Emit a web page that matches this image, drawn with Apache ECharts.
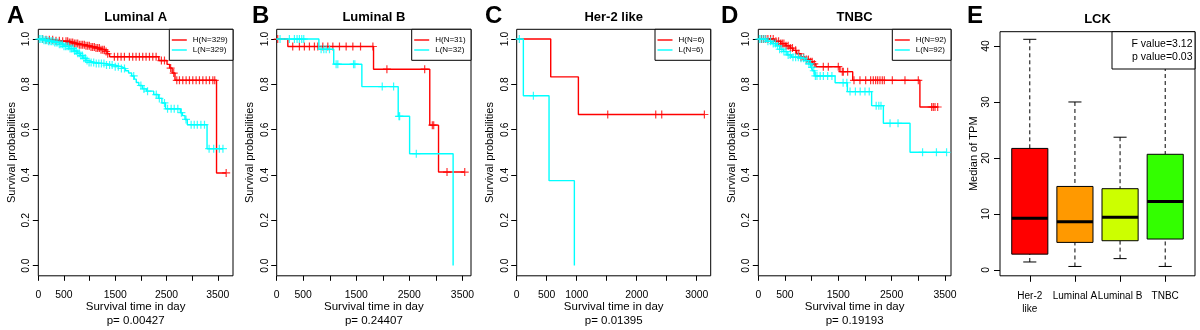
<!DOCTYPE html>
<html><head><meta charset="utf-8">
<script src="https://cdn.jsdelivr.net/npm/echarts@6/dist/echarts.min.js"></script>
<style>html,body{margin:0;padding:0;background:#fff}#c{width:1200px;height:330px}</style>
</head><body><div id="c"></div>
<script>
// ---------------- DATA ----------------
const kmTitles = ['Luminal A', 'Luminal B', 'Her-2 like', 'TNBC'];
const kmLetters = ['A', 'B', 'C', 'D'];
const kmPValues = ['0.00427', '0.24407', '0.01395', '0.19193'];
const kmHighN = [329, 31, 6, 92];
const kmLowN = [329, 32, 6, 92];
const kmXTickValues = [
  [0, 500, 1000, 1500, 2000, 2500, 3000, 3500],
  [0, 500, 1000, 1500, 2000, 2500, 3000, 3500],
  [0, 500, 1000, 1500, 2000, 2500, 3000],
  [0, 500, 1000, 1500, 2000, 2500, 3000, 3500]
];
const kmXTickLabels = [
  [0, 500, 1500, 2500, 3500],
  [0, 500, 1500, 2500, 3500],
  [0, 500, 1000, 2000, 3000],
  [0, 500, 1500, 2500, 3500]
];
const kmYTicks = [0, 0.2, 0.4, 0.6, 0.8, 1];

// Luminal A
const lumA_H_steps = [[0,1],[150,0.997],[300,0.993],[450,0.99],[600,0.985],[700,0.98],[800,0.975],[900,0.97],[1000,0.965],[1100,0.96],[1200,0.953],[1290,0.945],[1340,0.935],[1390,0.922],[2350,0.905],[2510,0.888],[2560,0.872],[2610,0.85],[2665,0.818],[3475,0.409]];
const lumA_H_censor = [85,150,215,280,345,410,475,540,572,605,637,670,703,735,768,800,833,865,898,930,963,995,1028,1060,1093,1125,1158,1191,1223,1256,1288,1321,1353,1483,1548,1614,1679,1776,1841,1906,1971,2036,2101,2167,2232,2297,2400,2460,2580,2640,2700,2752,2817,2882,2947,3012,3077,3142,3208,3273,3338,3403,3440,3663];
const lumA_L_steps = [[0,1],[100,0.995],[200,0.99],[300,0.985],[400,0.977],[500,0.968],[600,0.958],[700,0.947],[760,0.937],[820,0.927],[870,0.915],[930,0.905],[980,0.897],[1100,0.892],[1300,0.885],[1500,0.878],[1620,0.87],[1700,0.86],[1760,0.85],[1820,0.837],[1870,0.823],[1910,0.808],[1960,0.795],[2030,0.78],[2110,0.77],[2250,0.755],[2340,0.738],[2410,0.718],[2480,0.692],[2770,0.675],[2810,0.662],[2860,0.645],[2905,0.622],[3290,0.516]];
const lumA_L_censor = [20,50,80,110,140,170,200,230,260,290,320,350,380,410,440,470,500,530,560,590,620,650,680,710,740,770,800,830,860,890,920,950,990,1030,1080,1130,1180,1230,1280,1330,1390,1440,1500,1560,1620,1680,1860,2000,2060,2130,2300,2360,2460,2520,2590,2650,2720,2790,2880,2980,3040,3100,3170,3240,3330,3420,3530,3600];

// Luminal B
const lumB_H_steps = [[0,1],[210,0.967],[1825,0.867],[2885,0.62],[3050,0.413]];
const lumB_H_censor = [19,302,428,522,617,711,774,869,963,1058,1183,1309,1435,1580,1813,2077,2789,2933,2959,3210,3544];
const lumB_L_steps = [[0,1],[795,0.955],[1075,0.889],[1605,0.79],[2290,0.659],[2505,0.494],[3325,0]];
const lumB_L_censor = [63,239,334,384,428,472,510,837,888,932,995,1120,1152,1448,1473,1989,2203,2304,2317,2631];

// Her-2 like
const her2_H_steps = [[0,1],[567,0.833],[1028,0.667]];
const her2_H_censor = [1517,2317,2417,3128];
const her2_L_steps = [[0,1],[111,0.75],[539,0.375],[961,0]];
const her2_L_censor = [44,278];

// TNBC
const tnbc_H_steps = [[0,1],[300,0.99],[420,0.98],[520,0.97],[600,0.96],[650,0.95],[720,0.935],[800,0.92],[870,0.91],[950,0.9],[1020,0.89],[1080,0.878],[1530,0.856],[1770,0.818],[3030,0.7]];
const tnbc_H_censor = [60,100,140,180,230,280,330,380,420,450,480,520,560,600,640,700,760,800,850,900,940,980,1010,1050,1219,1313,1500,1575,1594,1675,1794,1906,2013,2106,2156,2200,2238,2281,2325,2363,2513,2750,3000,3250,3281,3313,3363];
const tnbc_L_steps = [[0,1],[150,0.99],[250,0.98],[330,0.97],[400,0.955],[470,0.945],[540,0.93],[620,0.92],[760,0.915],[870,0.905],[940,0.89],[990,0.875],[1020,0.86],[1060,0.837],[1440,0.807],[1670,0.768],[2125,0.706],[2345,0.628],[2845,0.5]];
const tnbc_L_censor = [20,50,90,130,180,230,280,320,360,400,440,480,520,560,600,650,700,750,800,850,900,950,980,1010,1040,1070,1100,1160,1220,1300,1380,1590,1660,1720,1820,1910,2000,2080,2210,2260,2300,2470,2620,3080,3340,3530];

// Box plot (panel E)
const boxTitle = 'LCK';
const boxCategories = ['Her-2\nlike', 'Luminal A', 'Luminal B', 'TNBC'];
const boxMin = [1.4, 0.6, 2.0, 0.6];
const boxQ1 = [2.8, 4.9, 5.2, 5.5];
const boxMedian = [9.2, 8.6, 9.4, 12.2];
const boxQ3 = [21.7, 14.9, 14.5, 20.65];
const boxMax = [41.2, 30.0, 23.7, 40.0];
const boxYTicks = [0, 10, 20, 30, 40];
const boxStatLines = ['F value=3.12', 'p value=0.03'];

// ---------------- STYLE / LAYOUT ----------------
const FONT = '"Liberation Sans", Arial, Helvetica, sans-serif';
const RED = '#FF0000', CYAN = '#00FFFF';
const boxColors = ['#FF0000', '#FF9900', '#CCFF00', '#33FF00'];
const kmGridLeft = [38.3, 276.7, 516.7, 758.3];
const kmGridRight = [233, 471, 710.7, 951];
const kmXMax = [3796, 3662, 3233, 3613];
const kmLegendWidth = [63.7, 59.3, 55.7, 58.7];
const kmTop = 29.3, kmBottom = 275.8;
const eLeft = 1000, eRight = 1195, eTop = 31.7, eBottom = 275.8;

const kmSteps = [[lumA_H_steps, lumA_L_steps],[lumB_H_steps, lumB_L_steps],[her2_H_steps, her2_L_steps],[tnbc_H_steps, tnbc_L_steps]];
const kmCensor = [[lumA_H_censor, lumA_L_censor],[lumB_H_censor, lumB_L_censor],[her2_H_censor, her2_L_censor],[tnbc_H_censor, tnbc_L_censor]];

function survAt(steps, t) {
  let v = steps[0][1];
  for (const s of steps) { if (s[0] <= t) v = s[1]; else break; }
  return v;
}
function stepLine(steps, censor) {
  const last = steps[steps.length - 1];
  const end = Math.max(last[0], censor.length ? Math.max(...censor) : 0);
  const d = steps.map(s => [s[0], s[1]]);
  if (end > last[0]) d.push([end, last[1]]);
  return d;
}
const PLUS = 'path://M3.4,0H4.6V3.4H8V4.6H4.6V8H3.4V4.6H0V3.4H3.4Z';

const grids = [], xAxes = [], yAxes = [], series = [], graphics = [];
const txt = (fs, extra) => Object.assign({fontSize: fs, color: '#000', fontFamily: FONT}, extra || {});

for (let i = 0; i < 4; i++) {
  grids.push({left: kmGridLeft[i], top: kmTop, width: kmGridRight[i] - kmGridLeft[i], height: kmBottom - kmTop,
    show: true, borderColor: '#000', borderWidth: 1, backgroundColor: 'transparent', containLabel: false, outerBoundsMode: 'none'});
  xAxes.push({gridIndex: i, type: 'value', min: 0, max: kmXMax[i], position: 'bottom',
    axisLine: {show: false, onZero: false}, splitLine: {show: false},
    axisTick: {show: true, length: 5, lineStyle: {color: '#000'}, customValues: kmXTickValues[i]},
    axisLabel: txt(10.4, {customValues: kmXTickLabels[i], margin: 14, formatter: v => String(v)}),
    name: 'Survival time in day', nameLocation: 'middle', nameGap: 25, nameMoveOverlap: false, nameTextStyle: txt(11.5)});
  yAxes.push({gridIndex: i, type: 'value', min: -0.045, max: 1.043, position: 'left',
    axisLine: {show: false, onZero: false}, splitLine: {show: false},
    axisTick: {show: true, length: 5.5, lineStyle: {color: '#000'}, customValues: kmYTicks},
    axisLabel: txt(10.4, {customValues: kmYTicks, rotate: 90, margin: 7, formatter: v => v.toFixed(1)}),
    name: 'Survival probabilities', nameLocation: 'middle', nameGap: 21, nameMoveOverlap: false, nameRotate: 90, nameTextStyle: txt(11)});
  const cols = [RED, CYAN];
  for (let g = 0; g < 2; g++) {
    const st = kmSteps[i][g], cs = kmCensor[i][g];
    series.push({type: 'line', xAxisIndex: i, yAxisIndex: i, step: 'end', showSymbol: false, symbol: 'none',
      data: stepLine(st, cs), lineStyle: {color: cols[g], width: 1.4}, z: 2 + g, silent: true});
    series.push({type: 'scatter', xAxisIndex: i, yAxisIndex: i, symbol: PLUS, symbolSize: 8,
      data: cs.map(t => [t, survAt(st, t)]), itemStyle: {color: cols[g]}, z: 2 + g, silent: true});
  }
  const cx = (kmGridLeft[i] + kmGridRight[i]) / 2;
  graphics.push({type: 'text', x: cx, y: 17.5, style: {text: kmTitles[i], font: 'bold 13px ' + FONT, fill: '#000', textAlign: 'center', textVerticalAlign: 'middle', align: 'center', verticalAlign: 'middle'}});
  graphics.push({type: 'text', x: cx, y: 320.5, style: {text: 'p= ' + kmPValues[i], font: '11.5px ' + FONT, fill: '#000', textAlign: 'center', textVerticalAlign: 'middle', align: 'center', verticalAlign: 'middle'}});
  // legend
  const lx = kmGridRight[i] - kmLegendWidth[i];
  graphics.push({type: 'rect', z: 50, shape: {x: lx, y: kmTop, width: kmLegendWidth[i], height: 60.3 - kmTop}, style: {fill: '#fff', stroke: '#000', lineWidth: 1}});
  const labs = ['H(N=' + kmHighN[i] + ')', 'L(N=' + kmLowN[i] + ')'];
  for (let g = 0; g < 2; g++) {
    const yy = 40 + g * 10;
    graphics.push({type: 'line', z: 51, shape: {x1: lx + 2.5, y1: yy, x2: lx + 17.5, y2: yy}, style: {stroke: cols[g], lineWidth: 1.4}});
    graphics.push({type: 'text', z: 51, x: lx + 23.5, y: yy, style: {text: labs[g], font: '8px ' + FONT, fill: '#000', textAlign: 'left', textVerticalAlign: 'middle', align: 'left', verticalAlign: 'middle'}});
  }
}

// panel E
grids.push({left: eLeft, top: eTop, width: eRight - eLeft, height: eBottom - eTop, show: true, borderColor: '#000', borderWidth: 1, backgroundColor: 'transparent', containLabel: false, outerBoundsMode: 'none'});
xAxes.push({gridIndex: 4, type: 'value', min: 0.34, max: 4.66, position: 'bottom', axisLine: {show: false, onZero: false}, splitLine: {show: false},
  axisTick: {show: true, length: 6, lineStyle: {color: '#000'}, customValues: [1, 2, 3, 4]},
  axisLabel: txt(10, {customValues: [1, 2, 3, 4], margin: 14, lineHeight: 13, formatter: v => boxCategories[Math.round(v) - 1]})});
yAxes.push({gridIndex: 4, type: 'value', min: -1.07, max: 42.56, position: 'left', axisLine: {show: false, onZero: false}, splitLine: {show: false},
  axisTick: {show: true, length: 6, lineStyle: {color: '#000'}, customValues: boxYTicks},
  axisLabel: txt(10.4, {customValues: boxYTicks, rotate: 90, margin: 8.5, formatter: v => String(v)}),
  name: 'Median of TPM', nameLocation: 'middle', nameGap: 21, nameMoveOverlap: false, nameRotate: 90, nameTextStyle: txt(11)});
const boxData = boxCategories.map((c, i) => [i + 1, boxMin[i], boxQ1[i], boxMedian[i], boxQ3[i], boxMax[i]]);
series.push({type: 'custom', xAxisIndex: 4, yAxisIndex: 4, data: boxData, encode: {x: 0, y: [1, 2, 3, 4, 5]}, silent: true,
  renderItem: function (params, api) {
    const x = api.value(0);
    const lo = api.coord([x, api.value(1)]), q1 = api.coord([x, api.value(2)]), md = api.coord([x, api.value(3)]);
    const q3 = api.coord([x, api.value(4)]), hi = api.coord([x, api.value(5)]);
    const hw = api.size([0.8, 0])[0] / 2, cw = api.size([0.29, 0])[0] / 2;
    const dash = {stroke: '#000', lineWidth: 1, lineDash: [4, 3]};
    const solid = {stroke: '#000', lineWidth: 1};
    return {type: 'group', children: [
      {type: 'line', shape: {x1: hi[0], y1: hi[1], x2: q3[0], y2: q3[1]}, style: dash},
      {type: 'line', shape: {x1: lo[0], y1: lo[1], x2: q1[0], y2: q1[1]}, style: dash},
      {type: 'line', shape: {x1: hi[0] - cw, y1: hi[1], x2: hi[0] + cw, y2: hi[1]}, style: solid},
      {type: 'line', shape: {x1: lo[0] - cw, y1: lo[1], x2: lo[0] + cw, y2: lo[1]}, style: solid},
      {type: 'rect', shape: {x: q3[0] - hw, y: q3[1], width: 2 * hw, height: q1[1] - q3[1]}, style: {fill: boxColors[params.dataIndex], stroke: '#000', lineWidth: 1}},
      {type: 'line', shape: {x1: md[0] - hw, y1: md[1], x2: md[0] + hw, y2: md[1]}, style: {stroke: '#000', lineWidth: 3}}
    ]};
  }});
graphics.push({type: 'text', x: (eLeft + eRight) / 2, y: 19, style: {text: boxTitle, font: 'bold 13px ' + FONT, fill: '#000', textAlign: 'center', textVerticalAlign: 'middle', align: 'center', verticalAlign: 'middle'}});
graphics.push({type: 'rect', z: 50, shape: {x: 1112, y: eTop, width: eRight - 1112, height: 69 - eTop}, style: {fill: '#fff', stroke: '#000', lineWidth: 1}});
boxStatLines.forEach((s, k) => graphics.push({type: 'text', z: 51, x: 1192.5, y: 44.5 + k * 12.5, style: {text: s, font: '10.5px ' + FONT, fill: '#000', textAlign: 'right', textVerticalAlign: 'middle', align: 'right', verticalAlign: 'middle'}}));

// panel letters
const letterPos = [[7, 16], [252, 16], [485, 16], [721, 16], [967, 16]];
['A', 'B', 'C', 'D', 'E'].forEach((L, k) => graphics.push({type: 'text', x: letterPos[k][0], y: letterPos[k][1], style: {text: L, font: 'bold 24px ' + FONT, fill: '#000', textAlign: 'left', textVerticalAlign: 'middle', align: 'left', verticalAlign: 'middle'}}));

const chart = echarts.init(document.getElementById('c'), null, {renderer: 'canvas'});
chart.setOption({animation: false, backgroundColor: '#fff', grid: grids, xAxis: xAxes, yAxis: yAxes, series: series, graphic: graphics});
</script></body></html>
